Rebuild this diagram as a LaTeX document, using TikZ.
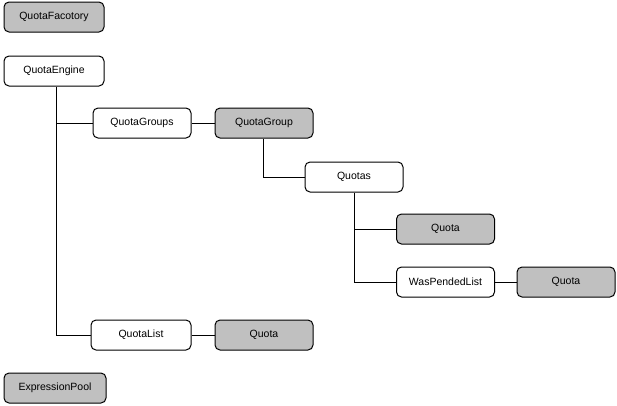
\documentclass[tikz,border=0pt]{standalone}
\usepackage{fontspec}
\setmainfont{Liberation Sans}
\definecolor{boxgray}{RGB}{192,192,192}
\begin{document}
\begin{tikzpicture}[x=1pt,y=-1pt,
  box/.style={draw=black,line width=1pt,rounded corners=5pt,minimum width=98pt,minimum height=30pt,inner sep=0pt,font=\fontsize{10.5}{12}\selectfont,anchor=center},
  wbox/.style={box,fill=white},
  gbox/.style={box,fill=boxgray},
  conn/.style={draw=black,line width=1pt}]
\useasboundingbox (0,0) rectangle (617,405);
\node[gbox,minimum width=100pt] (fac) at (54,17) {QuotaFacotory};
\node[wbox,minimum width=100pt] (eng) at (54,71) {QuotaEngine};
\node[wbox] (grps) at (142,123) {QuotaGroups};
\node[gbox] (grp) at (264,123) {QuotaGroup};
\node[wbox] (quotas) at (354,177) {Quotas};
\node[gbox] (q1) at (445.5,229) {Quota};
\node[wbox] (wpl) at (445.5,282) {WasPendedList};
\node[gbox] (q2) at (566,282) {Quota};
\node[wbox,minimum width=100pt] (ql) at (141,335) {QuotaList};
\node[gbox] (q3) at (264,335) {Quota};
\node[gbox,minimum width=102pt] (pool) at (55,388) {ExpressionPool};
\coordinate (e1) at (56,123);
\coordinate (e2) at (56,335);
\coordinate (g1) at (263,177);
\coordinate (s1) at (354,229);
\coordinate (s2) at (354,282);
\draw[conn] (eng.south -| e1) -- (e2) -- (ql.west);
\draw[conn] (e1) -- (grps.west);
\draw[conn] (grps.east) -- (grp.west);
\draw[conn] (grp.south -| g1) -- (g1) -- (quotas.west);
\draw[conn] (quotas.south) -- (s2) -- (wpl.west);
\draw[conn] (s1) -- (q1.west);
\draw[conn] (wpl.east) -- (q2.west);
\draw[conn] (ql.east) -- (q3.west);
\end{tikzpicture}
\end{document}
